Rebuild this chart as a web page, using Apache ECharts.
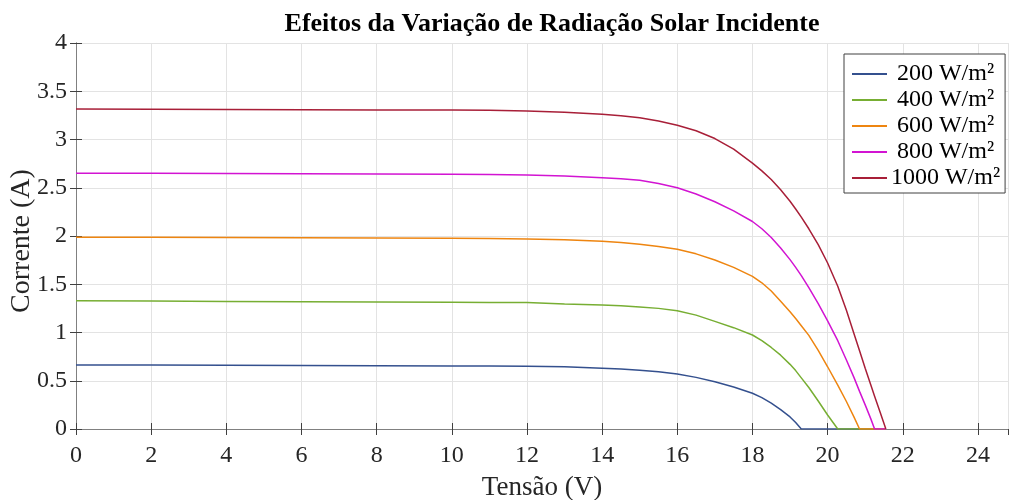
<!DOCTYPE html>
<html>
<head>
<meta charset="utf-8">
<script src="https://cdn.jsdelivr.net/npm/echarts@6/dist/echarts.min.js"></script>
<style>
  html, body { margin: 0; padding: 0; background: #fff; }
  #chart { width: 1011px; height: 500px; }
</style>
</head>
<body>
<div id="chart"></div>
<script>
// tensao (V) shared by all curves
const tensao = [0, 2, 4, 6, 8, 10, 11, 12, 13, 14, 14.5, 15, 15.5, 16, 16.5, 17, 17.5, 18, 18.25, 18.5, 18.75,
  19, 19.15, 19.3, 19.5, 19.75, 20, 20.27, 20.5, 20.7, 20.85, 21, 21.15, 21.25, 21.4, 21.55]

const legendas = ['200 W/m²', '400 W/m²', '600 W/m²', '800 W/m²', '1000 W/m²']
const cores = ['#34508e', '#77ae33', '#ee8510', '#d214d2', '#a81f38']

// corrente (A) for each irradiance
const i200 = [0.663, 0.662, 0.66, 0.658, 0.655, 0.653, 0.652, 0.65, 0.645, 0.629, 0.621, 0.61, 0.593, 0.57, 0.535, 0.49, 0.435, 0.37, 0.325, 0.268, 0.2,
  0.125, 0.068, 0, 0, 0, 0, 0, 0, 0, 0, 0, 0, 0, 0, 0]
const i400 = [1.33, 1.326, 1.322, 1.318, 1.315, 1.313, 1.312, 1.31, 1.295, 1.285, 1.277, 1.265, 1.25, 1.226, 1.18, 1.115, 1.05, 0.974, 0.915, 0.845, 0.765,
  0.67, 0.605, 0.53, 0.43, 0.29, 0.145, 0, 0, 0, 0, 0, 0, 0, 0, 0]
const i600 = [1.987, 1.986, 1.985, 1.983, 1.98, 1.976, 1.973, 1.969, 1.96, 1.945, 1.932, 1.915, 1.892, 1.862, 1.815, 1.752, 1.675, 1.582, 1.515, 1.43, 1.325,
  1.215, 1.145, 1.07, 0.97, 0.815, 0.645, 0.455, 0.285, 0.125, 0, 0, 0, 0, 0, 0]
const i800 = [2.65, 2.649, 2.648, 2.646, 2.643, 2.64, 2.637, 2.632, 2.622, 2.604, 2.592, 2.577, 2.545, 2.5, 2.435, 2.355, 2.26, 2.15, 2.075, 1.985, 1.875,
  1.755, 1.675, 1.59, 1.465, 1.3, 1.12, 0.915, 0.715, 0.535, 0.39, 0.25, 0.105, 0, 0, 0]
const i1000 = [3.316, 3.314, 3.312, 3.309, 3.306, 3.305, 3.302, 3.295, 3.282, 3.262, 3.246, 3.225, 3.192, 3.147, 3.09, 3.01, 2.9, 2.755, 2.675, 2.585, 2.48,
  2.36, 2.28, 2.195, 2.075, 1.91, 1.72, 1.48, 1.23, 0.99, 0.81, 0.63, 0.455, 0.34, 0.17, 0]

const correntes = [i200, i400, i600, i800, i1000]

const fonte = "'Liberation Serif', 'DejaVu Serif', serif"
const texto = '#262626'
const eixo = '#808080'
const grade = '#e3e3e3'

const chart = echarts.init(document.getElementById('chart'))

const series = correntes.map((ys, k) => {
  return {
    name: legendas[k],
    type: 'line',
    symbol: 'none',
    xAxisIndex: 0,
    yAxisIndex: 0,
    lineStyle: { width: 1.5, color: cores[k] },
    itemStyle: { color: cores[k] },
    data: tensao.map((v, j) => [v, ys[j]])
  }
})

const option = {
  animation: false,
  backgroundColor: '#fff',
  title: {
    text: 'Efeitos da Variação de Radiação Solar Incidente',
    left: 547,
    top: 6,
    textAlign: 'center',
    textStyle: { fontFamily: fonte, fontSize: 26, fontWeight: 'bold', color: '#000' }
  },
  legend: {
    orient: 'vertical',
    left: 844,
    top: 54,
    padding: [8, 5, 3, 8],
    icon: 'rect',
    itemWidth: 35,
    itemHeight: 2,
    itemGap: 2,
    borderColor: '#404040',
    borderWidth: 1,
    backgroundColor: '#fff',
    data: legendas,
    formatter: function (name) { return '{t|' + name + '}' },
    textStyle: {
      fontFamily: fonte,
      fontSize: 24,
      lineHeight: 22,
      color: '#000',
      rich: { t: { fontFamily: fonte, fontSize: 24, lineHeight: 22, width: 107, align: 'center', color: '#000' } }
    }
  },
  grid: { left: 76, right: 3, top: 43, bottom: 71, outerBoundsMode: 'none' },
  xAxis: [{
    type: 'value',
    min: 0,
    max: 24.8,
    interval: 2,
    name: 'Tensão (V)',
    nameLocation: 'middle',
    nameGap: 45,
    nameMoveOverlap: false,
    nameTextStyle: { fontFamily: fonte, fontSize: 27, color: texto },
    axisLine: { show: true, onZero: false, lineStyle: { color: eixo, width: 1 } },
    axisTick: { show: true, inside: true, length: 6, lineStyle: { color: '#404040' } },
    axisLabel: { showMaxLabel: false, margin: 15, fontFamily: fonte, fontSize: 24, color: texto },
    splitLine: { show: true, lineStyle: { color: grade, width: 1 } }
  }, {
    type: 'value',
    position: 'top',
    min: 0,
    max: 24.8,
    interval: 2,
    axisLine: { show: true, lineStyle: { color: eixo, width: 1 } },
    axisTick: { show: true, inside: true, length: 6, lineStyle: { color: '#404040' } },
    axisLabel: { show: false },
    splitLine: { show: false }
  }],
  yAxis: [{
    type: 'value',
    min: 0,
    max: 4,
    interval: 0.5,
    name: 'Corrente (A)',
    nameLocation: 'middle',
    nameGap: 40,
    nameMoveOverlap: false,
    nameTextStyle: { fontFamily: fonte, fontSize: 28, color: texto, padding: [0, 10, 0, 0] },
    axisLine: { show: true, onZero: false, lineStyle: { color: eixo, width: 1 } },
    axisTick: { show: true, inside: true, length: 6, lineStyle: { color: '#404040' } },
    axisLabel: { margin: 9, fontFamily: fonte, fontSize: 24, color: texto },
    splitLine: { show: true, lineStyle: { color: grade, width: 1 } }
  }, {
    type: 'value',
    position: 'right',
    min: 0,
    max: 4,
    interval: 0.5,
    axisLine: { show: true, lineStyle: { color: eixo, width: 1 } },
    axisTick: { show: true, inside: true, length: 6, lineStyle: { color: '#404040' } },
    axisLabel: { show: false },
    splitLine: { show: false }
  }],
  series: series
}

chart.setOption(option)
</script>
</body>
</html>
